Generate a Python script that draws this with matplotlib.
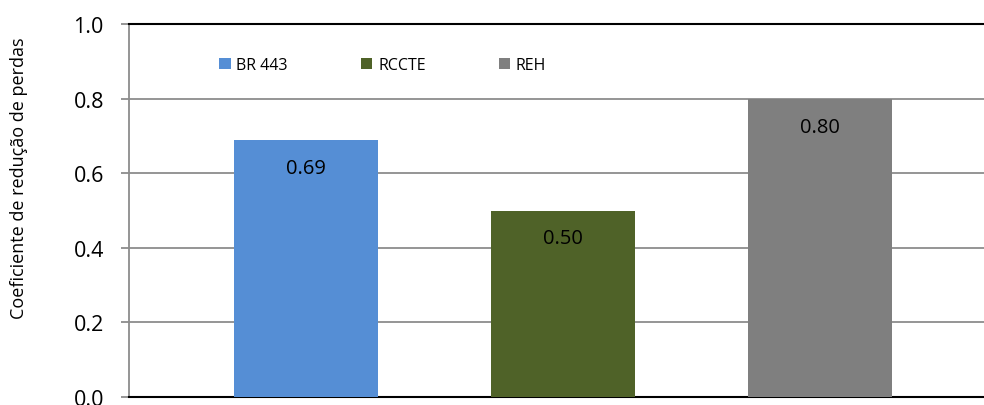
import matplotlib
matplotlib.use("Agg")
import matplotlib.pyplot as plt
from matplotlib.patches import Patch

categories = ["BR 443", "RCCTE", "REH"]
values = [0.69, 0.50, 0.80]
labels = ["0.69", "0.50", "0.80"]
colors = ["#558ED5", "#4F6228", "#7F7F7F"]
yticks = [0.0, 0.2, 0.4, 0.6, 0.8, 1.0]
ytick_labels = ["0.0", "0.2", "0.4", "0.6", "0.8", "1.0"]

plt.rcParams['font.family'] = ['Open Sans', 'DejaVu Sans']

fig = plt.figure(figsize=(9.84, 4.06), dpi=100)
ax = fig.add_axes([0.131, 0.0197, 0.869, 0.9187])

x = list(range(len(categories)))
bars = ax.bar(x, values, width=0.56, color=colors, zorder=3)
for xi, v, lab in zip(x, values, labels):
    ax.text(xi, v - 0.075, lab, ha='center', va='center', fontsize=14.5, color='black', zorder=4)

ax.set_xlim(-0.689, 2.638)
ax.set_ylim(0, 1.0)
ax.set_yticks(yticks)
ax.set_yticklabels(ytick_labels, fontsize=15.5)
ax.set_xticks([])
for y in yticks[1:-1]:
    ax.axhline(y, color='#8C8C8C', linewidth=1.3, zorder=1)

ax.spines['right'].set_visible(False)
ax.spines['top'].set_color('black')
ax.spines['top'].set_linewidth(1.5)
ax.spines['bottom'].set_color('black')
ax.spines['bottom'].set_linewidth(1.5)
ax.spines['left'].set_color('#8C8C8C')
ax.spines['left'].set_linewidth(1.3)
ax.tick_params(axis='y', length=6, width=1.3, color='#8C8C8C', pad=12)

ax.set_ylabel("Coeficiente de redução de perdas", fontsize=13)
ax.yaxis.set_label_coords(-0.118, 0.59)

handles = [Patch(facecolor=c, edgecolor='none') for c in colors]
leg = ax.legend(handles, categories, ncol=3, loc='center', bbox_to_anchor=(0.297, 0.89),
                frameon=False, fontsize=11.5, handlelength=0.7, handleheight=0.7,
                handletextpad=0.35, columnspacing=4.6)

fig.savefig("out.png", dpi=100)
